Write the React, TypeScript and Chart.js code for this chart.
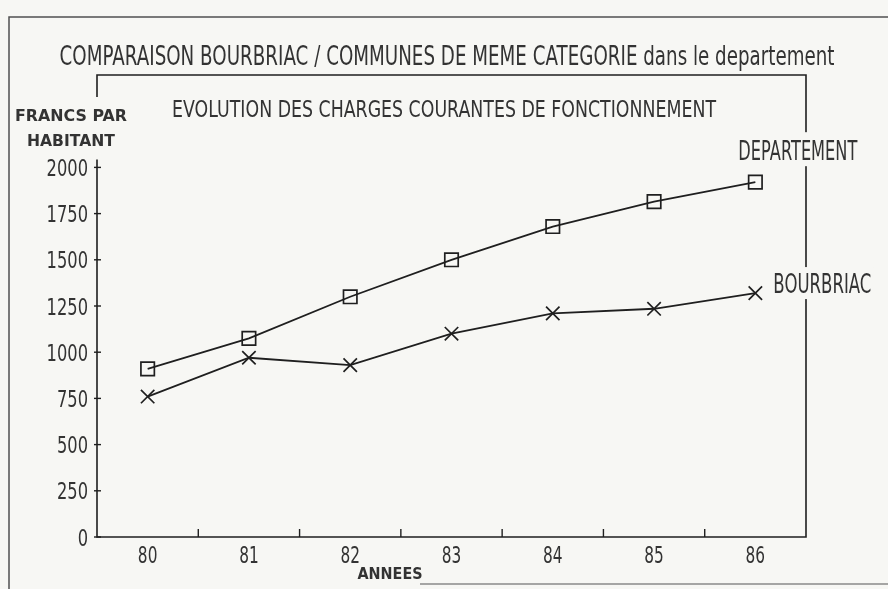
import React, { useEffect, useRef } from "react";
import { Chart, registerables } from "chart.js";

Chart.register(...registerables);

// ---- data ----
const years = ["80", "81", "82", "83", "84", "85", "86"];
const departement = [910, 1075, 1300, 1500, 1680, 1815, 1920];
const bourbriac = [760, 970, 930, 1100, 1210, 1235, 1320];
const yTicks = [0, 250, 500, 750, 1000, 1250, 1500, 1750, 2000];
const seriesNames = ["DEPARTEMENT", "BOURBRIAC"];
const mainTitle = "COMPARAISON BOURBRIAC / COMMUNES DE MEME CATEGORIE dans le departement";
const subTitle = "EVOLUTION DES CHARGES COURANTES DE FONCTIONNEMENT";
const yTitle = ["FRANCS PAR", "HABITANT"];
const xTitle = "ANNEES";

const W = 888;
const H = 589;
const BG = "#f7f7f4";
const INK = "#1f1f1f";
const TXT = "#333333";
const FONT = '"DejaVu Sans", "Liberation Sans", sans-serif';

type Align = "left" | "center" | "right";

function drawText(
  ctx: CanvasRenderingContext2D,
  text: string,
  x: number,
  cy: number,
  capH: number,
  opts: { width?: number; sx?: number; align?: Align; bold?: boolean }
) {
  const size = capH / 0.73;
  ctx.save();
  ctx.font = `${opts.bold ? "bold " : ""}${size}px ${FONT}`;
  const w = ctx.measureText(text).width;
  const sx = opts.width ? opts.width / w : opts.sx ?? 1;
  const dw = w * sx;
  const align = opts.align ?? "left";
  const left = align === "left" ? x : align === "center" ? x - dw / 2 : x - dw;
  ctx.translate(left, cy + capH / 2);
  ctx.scale(sx, 1);
  ctx.textAlign = "left";
  ctx.textBaseline = "alphabetic";
  ctx.fillStyle = TXT;
  ctx.fillText(text, 0, 0);
  ctx.restore();
  return { left, width: dw };
}

function seg(ctx: CanvasRenderingContext2D, x1: number, y1: number, x2: number, y2: number) {
  ctx.beginPath();
  ctx.moveTo(x1, y1);
  ctx.lineTo(x2, y2);
  ctx.stroke();
}

const decor = {
  id: "decor",
  beforeDraw(chart: any) {
    const ctx = chart.ctx as CanvasRenderingContext2D;
    ctx.save();
    ctx.fillStyle = BG;
    ctx.fillRect(0, 0, chart.width, chart.height);
    ctx.restore();
  },
  beforeDatasetsDraw(chart: any) {
    const ctx = chart.ctx as CanvasRenderingContext2D;
    const a = chart.chartArea;
    const xs = chart.scales.x;
    const ys = chart.scales.y;
    ctx.save();
    ctx.lineCap = "butt";

    // outer sheet frame
    ctx.strokeStyle = "#505050";
    ctx.lineWidth = 1.5;
    ctx.beginPath();
    ctx.moveTo(W + 5, 17);
    ctx.lineTo(9, 17);
    ctx.lineTo(9, H + 5);
    ctx.stroke();
    ctx.strokeStyle = "#8a8a8a";
    seg(ctx, 420, 584, W + 5, 584);

    // main title
    drawText(ctx, mainTitle, W / 2 + 3, 55, 19, { width: 775, align: "center" });

    // inner frame
    ctx.strokeStyle = INK;
    ctx.lineWidth = 1.6;
    const yTop = ys.getPixelForValue(yTicks[yTicks.length - 1]);
    ctx.beginPath();
    ctx.moveTo(a.left, a.top + 22);
    ctx.lineTo(a.left, a.top);
    ctx.lineTo(a.right, a.top);
    ctx.lineTo(a.right, a.bottom);
    ctx.lineTo(a.left, a.bottom);
    ctx.lineTo(a.left, yTop - 8);
    ctx.stroke();

    // subtitle
    drawText(ctx, subTitle, W / 2, 108, 17, { width: 544, align: "center" });

    // y axis title
    drawText(ctx, yTitle[0], 71, 115, 11, { width: 112, align: "center", bold: true });
    drawText(ctx, yTitle[1], 71, 140, 11, { width: 88, align: "center", bold: true });

    // y ticks & labels
    ctx.lineWidth = 1.4;
    yTicks.forEach((v) => {
      const py = ys.getPixelForValue(v);
      seg(ctx, a.left - 3, py, a.left + 4, py);
      drawText(ctx, String(v), a.left - 9, py, 17, { sx: 0.7, align: "right" });
    });

    // x minor ticks between categories
    for (let i = 0; i < years.length - 1; i++) {
      const px = xs.getPixelForValue(i + 0.5);
      seg(ctx, px, a.bottom, px, a.bottom - 8);
    }
    years.forEach((lab, i) => {
      const px = xs.getPixelForValue(i);
      drawText(ctx, lab, px, a.bottom + 17, 17, { sx: 0.66, align: "center" });
    });

    // x axis title
    drawText(ctx, xTitle, 390, 573, 11, { width: 65, align: "center", bold: true });
    ctx.restore();
  },
  afterDatasetsDraw(chart: any) {
    const ctx = chart.ctx as CanvasRenderingContext2D;
    const n = years.length - 1;
    const p0 = chart.getDatasetMeta(0).data[n];
    const p1 = chart.getDatasetMeta(1).data[n];
    ctx.save();
    // knock out the frame line behind the series labels
    ctx.fillStyle = BG;
    ctx.fillRect(p0.x - 19, p0.y - 50, 124, 34);
    ctx.fillRect(p1.x + 16, p1.y - 26, 102, 32);
    ctx.restore();
    drawText(ctx, seriesNames[0], p0.x - 17, p0.y - 32, 20, { width: 119 });
    drawText(ctx, seriesNames[1], p1.x + 18, p1.y - 10, 19, { width: 98 });
  },
};

export default function App() {
  const ref = useRef<HTMLCanvasElement | null>(null);

  useEffect(() => {
    document.body.style.margin = "0";
    document.body.style.background = BG;
    const canvas = ref.current;
    if (!canvas) return;
    const chart = new Chart(canvas, {
      type: "line",
      data: {
        labels: years,
        datasets: [
          {
            label: seriesNames[0],
            data: departement,
            borderColor: INK,
            borderWidth: 1.8,
            pointStyle: "rect",
            pointRadius: 9.5,
            pointBorderWidth: 1.7,
            pointBorderColor: INK,
            pointBackgroundColor: "rgba(0,0,0,0)",
            tension: 0,
            fill: false,
          },
          {
            label: seriesNames[1],
            data: bourbriac,
            borderColor: INK,
            borderWidth: 1.8,
            pointStyle: "crossRot",
            pointRadius: 9.5,
            pointBorderWidth: 1.7,
            pointBorderColor: INK,
            pointBackgroundColor: "rgba(0,0,0,0)",
            tension: 0,
            fill: false,
          },
        ],
      },
      options: {
        responsive: false,
        animation: false,
        devicePixelRatio: 1,
        layout: { padding: { left: 97, right: W - 806, top: 75, bottom: H - 537 } },
        plugins: {
          legend: { display: false },
          tooltip: { enabled: false },
          title: { display: false },
        },
        scales: {
          x: {
            type: "category",
            offset: true,
            grid: { display: false, drawTicks: false, tickLength: 0 },
            border: { display: false },
            ticks: { display: false },
          },
          y: {
            type: "linear",
            min: 0,
            max: 2500,
            grid: { display: false, drawTicks: false, tickLength: 0 },
            border: { display: false },
            ticks: { display: false, stepSize: 250 },
          },
        },
      },
      plugins: [decor],
    } as any);
    return () => chart.destroy();
  }, []);

  return (
    <div style={{ position: "absolute", left: 0, top: 0, width: W, height: H }}>
      <canvas ref={ref} width={W} height={H} style={{ display: "block" }} />
    </div>
  );
}
